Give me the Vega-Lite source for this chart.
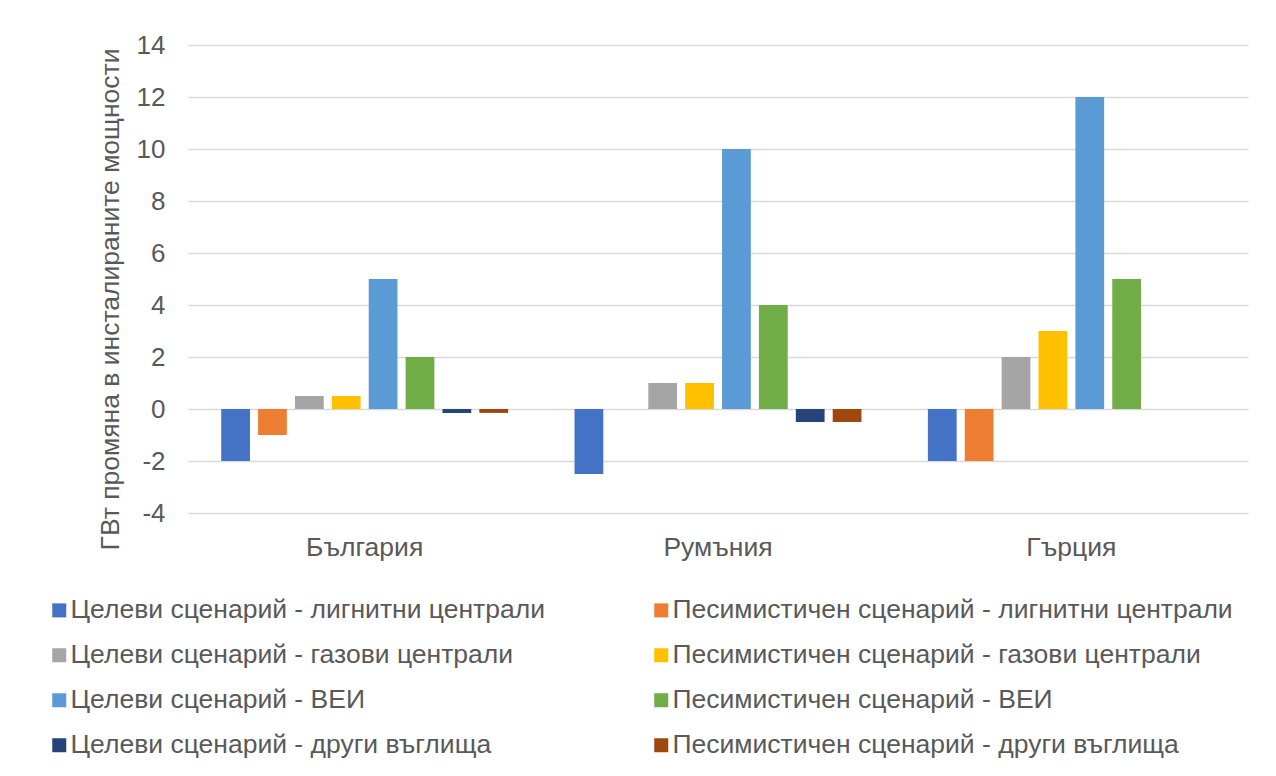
{
  "$schema": "https://vega.github.io/schema/vega-lite/v6.json",
  "width": 1060,
  "height": 468,
  "autosize": {"type": "none"},
  "padding": {"left": 188, "top": 45, "right": 28, "bottom": 263},
  "background": "white",
  "config": {
    "view": {"stroke": null},
    "font": "Liberation Sans",
    "axis": {"labelColor": "#595959", "titleColor": "#595959", "labelFont": "Liberation Sans", "titleFont": "Liberation Sans"}
  },
  "data": {
    "values": [
      {"country": "България", "series": "Целеви сценарий - лигнитни централи", "value": -2},
      {"country": "България", "series": "Песимистичен сценарий - лигнитни централи", "value": -1},
      {"country": "България", "series": "Целеви сценарий - газови централи", "value": 0.5},
      {"country": "България", "series": "Песимистичен сценарий - газови централи", "value": 0.5},
      {"country": "България", "series": "Целеви сценарий - ВЕИ", "value": 5},
      {"country": "България", "series": "Песимистичен сценарий - ВЕИ", "value": 2},
      {"country": "България", "series": "Целеви сценарий - други въглища", "value": -0.15},
      {"country": "България", "series": "Песимистичен сценарий - други въглища", "value": -0.15},
      {"country": "Румъния", "series": "Целеви сценарий - лигнитни централи", "value": -2.5},
      {"country": "Румъния", "series": "Песимистичен сценарий - лигнитни централи", "value": 0},
      {"country": "Румъния", "series": "Целеви сценарий - газови централи", "value": 1},
      {"country": "Румъния", "series": "Песимистичен сценарий - газови централи", "value": 1},
      {"country": "Румъния", "series": "Целеви сценарий - ВЕИ", "value": 10},
      {"country": "Румъния", "series": "Песимистичен сценарий - ВЕИ", "value": 4},
      {"country": "Румъния", "series": "Целеви сценарий - други въглища", "value": -0.5},
      {"country": "Румъния", "series": "Песимистичен сценарий - други въглища", "value": -0.5},
      {"country": "Гърция", "series": "Целеви сценарий - лигнитни централи", "value": -2},
      {"country": "Гърция", "series": "Песимистичен сценарий - лигнитни централи", "value": -2},
      {"country": "Гърция", "series": "Целеви сценарий - газови централи", "value": 2},
      {"country": "Гърция", "series": "Песимистичен сценарий - газови централи", "value": 3},
      {"country": "Гърция", "series": "Целеви сценарий - ВЕИ", "value": 12},
      {"country": "Гърция", "series": "Песимистичен сценарий - ВЕИ", "value": 5},
      {"country": "Гърция", "series": "Целеви сценарий - други въглища", "value": 0},
      {"country": "Гърция", "series": "Песимистичен сценарий - други въглища", "value": 0}
    ]
  },
  "mark": {"type": "bar"},
  "encoding": {
    "x": {
      "field": "country",
      "type": "nominal",
      "sort": ["България", "Румъния", "Гърция"],
      "scale": {"paddingInner": 0.165, "paddingOuter": 0.0825},
      "axis": {"title": null, "labelAngle": 0, "labelFontSize": 26.5, "labelPadding": 21, "domain": false, "ticks": false}
    },
    "xOffset": {
      "field": "series",
      "type": "nominal",
      "sort": [
        "Целеви сценарий - лигнитни централи",
        "Песимистичен сценарий - лигнитни централи",
        "Целеви сценарий - газови централи",
        "Песимистичен сценарий - газови централи",
        "Целеви сценарий - ВЕИ",
        "Песимистичен сценарий - ВЕИ",
        "Целеви сценарий - други въглища",
        "Песимистичен сценарий - други въглища"
      ],
      "scale": {"paddingInner": 0.22, "paddingOuter": 0.11}
    },
    "y": {
      "field": "value",
      "type": "quantitative",
      "scale": {"domain": [-4, 14], "nice": false, "zero": false},
      "axis": {
        "title": "ГВт промяна в инсталираните мощности",
        "titleFontSize": 26.5,
        "titleFontWeight": "normal",
        "titlePadding": 12,
        "titleY": 254,
        "values": [-4, -2, 0, 2, 4, 6, 8, 10, 12, 14],
        "labelExpr": "datum.value < 0 ? '-' + abs(datum.value) : '' + datum.value",
        "labelFontSize": 26,
        "labelPadding": 23,
        "domain": false,
        "ticks": false,
        "gridColor": "#d9d9d9",
        "gridWidth": 1.5
      }
    },
    "color": {
      "field": "series",
      "type": "nominal",
      "scale": {
        "domain": [
          "Целеви сценарий - лигнитни централи",
          "Песимистичен сценарий - лигнитни централи",
          "Целеви сценарий - газови централи",
          "Песимистичен сценарий - газови централи",
          "Целеви сценарий - ВЕИ",
          "Песимистичен сценарий - ВЕИ",
          "Целеви сценарий - други въглища",
          "Песимистичен сценарий - други въглища"
        ],
        "range": ["#4472C4", "#ED7D31", "#A5A5A5", "#FFC000", "#5B9BD5", "#70AD47", "#264478", "#9E480E"]
      },
      "legend": {
        "title": null,
        "orient": "none",
        "legendX": -142,
        "legendY": 552,
        "padding": 0,
        "direction": "horizontal",
        "columns": 2,
        "symbolType": "square",
        "symbolSize": 196,
        "symbolStrokeWidth": 0,
        "labelFontSize": 26.5,
        "labelColor": "#595959",
        "labelFont": "Liberation Sans",
        "labelOffset": -2,
        "labelLimit": 800,
        "rowPadding": 18,
        "columnPadding": 103
      }
    }
  }
}
